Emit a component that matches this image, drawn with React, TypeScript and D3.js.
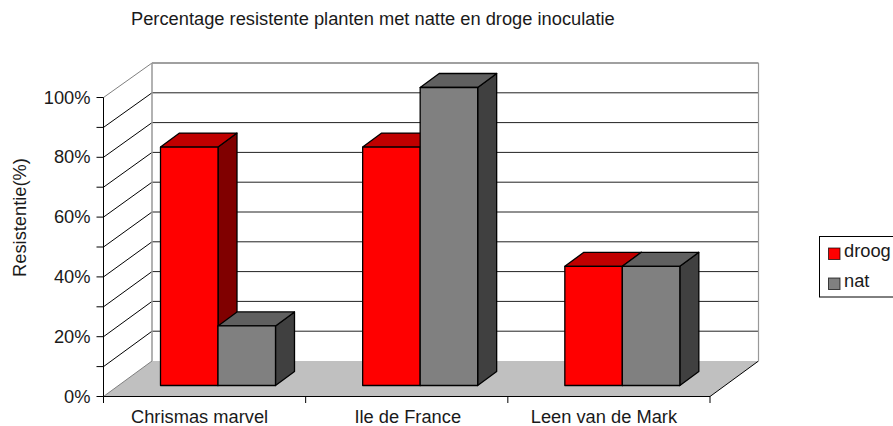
import React from "react";
import * as d3 from "d3";

const title = "Percentage resistente planten met natte en droge inoculatie";
const yTitle = "Resistentie(%)";
const categories = ["Chrismas marvel", "Ile de France", "Leen van de Mark"];
const droog = [80, 80, 40];
const nat = [20, 100, 40];
const gridValues = [0, 10, 20, 30, 40, 50, 60, 70, 80, 90, 100];
const labelValues = [0, 20, 40, 60, 80, 100];
const seriesNames = ["droog", "nat"];

const FONT = "Liberation Sans, Arial, sans-serif";
const FS = 18.3;
const depthX = 48.5;
const barDX = 19;
const barDY = 14;
const labelShift = [-5, 1, -5];

const x = d3.scaleBand<string>().domain(categories).range([103.5, 710]);
const yFront = d3.scaleLinear().domain([0, 100]).range([396.5, 97.5]);
const yBack = d3.scaleLinear().domain([0, 100]).range([361, 63]);
const yBar = d3.scaleLinear().domain([0, 100]).range([385.5, 87.5]);
const poly = (pts: [number, number][]) => d3.line()(pts)! + "Z";

const palette = [
  { front: "#ff0000", top: "#c00000", side: "#800000" },
  { front: "#808080", top: "#606060", side: "#404040" },
];

function Bar({ x0, w, v, c }: { x0: number; w: number; v: number; c: (typeof palette)[number] }) {
  const t = yBar(v);
  const b = yBar(0);
  const x1 = x0 + w;
  return (
    <g stroke="#000" strokeWidth={1.3} strokeLinejoin="round">
      <path d={poly([[x1, t], [x1 + barDX, t - barDY], [x1 + barDX, b - barDY], [x1, b]])} fill={c.side} />
      <path d={poly([[x0, t], [x0 + barDX, t - barDY], [x1 + barDX, t - barDY], [x1, t]])} fill={c.top} />
      <rect x={x0} y={t} width={w} height={b - t} fill={c.front} />
    </g>
  );
}

export default function App() {
  const left = 103.5;
  const right = 710;
  const band = x.bandwidth();
  const barW = 57.5;
  const barInset = 57;
  return (
    <svg width={893} height={426} style={{ position: "absolute", left: 0, top: 0 }} fontFamily={FONT} fontSize={FS} fill="#1a1a1a">
      <rect width={893} height={426} fill="#fff" />
      <text x={131} y={25}>{title}</text>

      {/* floor */}
      <path d={poly([[left, yFront(0)], [left + depthX, yBack(0)], [right + depthX, yBack(0)], [right, yFront(0)]])} fill="#c0c0c0" />
      {/* gridlines */}
      {gridValues.map((v) => (
        <g key={v} fill="none">
          {v > 0 && <line x1={left} y1={yFront(v)} x2={left + depthX} y2={yBack(v)} stroke={v === 100 ? "#808080" : "#000"} strokeWidth={1} />}
          {v > 0 && <line x1={left + depthX} y1={yBack(v)} x2={right + depthX} y2={yBack(v)} stroke={v === 100 ? "#808080" : "#222"} strokeWidth={v === 100 ? 1.6 : 1} />}
        </g>
      ))}
      <line x1={left} y1={yFront(0)} x2={left + depthX} y2={yBack(0)} stroke="#808080" />
      <line x1={right} y1={yFront(0)} x2={right + depthX} y2={yBack(0)} stroke="#000" />
      <line x1={left + depthX} y1={yBack(100)} x2={left + depthX} y2={yBack(0)} stroke="#999" strokeWidth={1.5} />
      <line x1={right + depthX} y1={yBack(100)} x2={right + depthX} y2={yBack(0)} stroke="#999" strokeWidth={1.2} />

      {/* bars */}
      {categories.map((cat, i) => {
        const x0 = x(cat)! + barInset;
        return (
          <g key={cat}>
            <Bar x0={x0} w={barW} v={droog[i]} c={palette[0]} />
            <Bar x0={x0 + barW} w={barW} v={nat[i]} c={palette[1]} />
          </g>
        );
      })}

      {/* axes */}
      <line x1={left} y1={yFront(0)} x2={left} y2={yFront(100)} stroke="#000" />
      <line x1={left} y1={yFront(0)} x2={right} y2={yFront(0)} stroke="#000" />
      {gridValues.map((v) => (
        <line key={v} x1={left - 7} x2={left} y1={yFront(v)} y2={yFront(v)} stroke="#000" />
      ))}
      {labelValues.map((v) => (
        <text key={v} x={90.5} y={yFront(v) + 6} textAnchor="end">{v}%</text>
      ))}
      {categories.map((cat, i) => (
        <g key={cat}>
          <line x1={x(cat)!} x2={x(cat)!} y1={396.5} y2={403} stroke="#000" />
          <text x={x(cat)! + band / 2 + labelShift[i]} y={423} textAnchor="middle">{cat}</text>
        </g>
      ))}
      <line x1={right} x2={right} y1={396.5} y2={403} stroke="#000" />
      <text transform="translate(26,217.5) rotate(-90)" textAnchor="middle">{yTitle}</text>

      {/* legend */}
      <rect x={819.5} y={236.5} width={80} height={60.5} fill="#fff" stroke="#000" />
      {seriesNames.map((s, i) => (
        <g key={s}>
          <rect x={828.5} y={248 + i * 30} width={11.5} height={11.5} fill={palette[i].front} stroke="#000" strokeWidth={1} strokeOpacity={0.7} />
          <text x={844} y={257 + i * 30}>{s}</text>
        </g>
      ))}
    </svg>
  );
}
